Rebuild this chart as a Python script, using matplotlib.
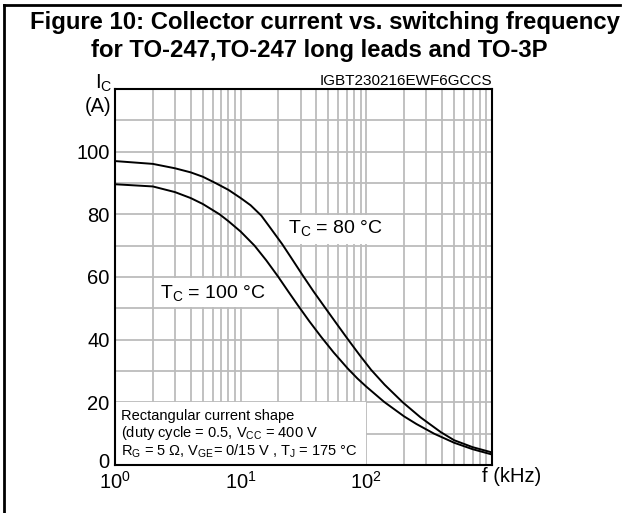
import matplotlib
matplotlib.use("Agg")
import matplotlib.pyplot as plt
import matplotlib.transforms as mtransforms
from matplotlib.lines import Line2D
from matplotlib.patches import Rectangle

plt.rcParams['font.family'] = ['Liberation Sans', 'DejaVu Sans']
plt.rcParams['mathtext.fontset'] = 'custom'
plt.rcParams['mathtext.rm'] = 'Liberation Sans'
plt.rcParams['mathtext.it'] = 'Liberation Sans:italic'

# switching frequency (kHz) and collector current (A)
f_80 = [1, 2, 3, 4, 5, 6.3, 8, 10, 12, 14.6, 17, 21.4, 25, 31.2, 38, 47.2, 58, 71.1, 88, 109,
        140, 195, 270, 391, 500, 700, 1000]
ic_80 = [97.0, 96.1, 94.7, 93.4, 92.0, 90.0, 87.8, 85.2, 82.9, 79.6, 76.0, 70.5, 66.4, 60.5,
         55.4, 50.1, 45.1, 40.2, 35.2, 30.4, 25.6, 20.0, 15.2, 10.5, 7.9, 5.7, 4.0]

f_100 = [1, 2, 3, 4, 5, 6.8, 8, 10, 12.9, 16, 19.8, 24, 28.5, 35, 43.7, 55, 71.1, 85, 100,
         139, 200, 250, 346, 500, 700, 1000]
ic_100 = [89.6, 88.9, 87.1, 85.2, 83.3, 80.0, 77.8, 74.5, 70.0, 65.3, 60.2, 55.3, 51.0, 46.0,
          40.9, 35.9, 30.8, 27.6, 25.0, 20.1, 15.5, 13.1, 10.0, 7.1, 5.05, 3.35]

xticks = [1, 10, 100]
xticklabels = [r'$\mathregular{10^{0}}$', r'$\mathregular{10^{1}}$', r'$\mathregular{10^{2}}$']
yticks = [0, 20, 40, 60, 80, 100]

fig = plt.figure(figsize=(6.28, 5.13), dpi=100)
ax = fig.add_axes([0.1831, 0.0936, 0.6003, 0.7329])

ax.set_xscale('log')
ax.set_xlim(1, 1000)
ax.set_ylim(0, 120)

# grid
grid_c = '#bcbcbc'
for dec in [1, 10, 100]:
    for m in range(1, 10):
        v = dec * m
        if 1 < v < 1000:
            ax.axvline(v, color=grid_c, lw=1.3, zorder=0)
for yv in range(10, 120, 10):
    ax.axhline(yv, color=grid_c, lw=1.3, zorder=0)

# white boxes behind labels
ax.add_patch(Rectangle((1, 0), 99, 20, facecolor='white', edgecolor='none', zorder=1))
ax.add_patch(Rectangle((20.5, 70.4), 170, 9.3, facecolor='white', edgecolor='none', zorder=1))
ax.add_patch(Rectangle((2.03, 50.4), 18.1, 9.3, facecolor='white', edgecolor='none', zorder=1))

ax.plot(f_80, ic_80, color='black', lw=1.4, zorder=3)
ax.plot(f_100, ic_100, color='black', lw=1.4, zorder=3)

ax.text(23.8, 75.5, r'T$_\mathregular{C}$ = 80 °C', fontsize=14, va='center', ha='left', zorder=4)
ax.text(2.3, 55, r'T$_\mathregular{C}$ = 100 °C', fontsize=14, va='center', ha='left', zorder=4)

ax.text(1.12, 15.6, 'Rectangular current shape', fontsize=10.5, va='center', zorder=4)
ax.text(1.12, 10.1, r'(duty cycle = 0.5, V$_\mathregular{CC}$ = 400 V', fontsize=10.5, va='center', zorder=4)
ax.text(1.12, 4.5, r'R$_\mathregular{G}$ = 5 Ω, V$_\mathregular{GE}$= 0/15 V , T$_\mathregular{J}$ = 175 °C',
        fontsize=10.5, va='center', zorder=4)

ax.set_xticks(xticks)
ax.set_xticklabels(xticklabels, fontsize=14.5)
ax.set_yticks(yticks)
ax.set_yticklabels([str(v) for v in yticks], fontsize=14.5)
ax.minorticks_off()
ax.tick_params(length=0, pad=4)
# nudge the "0" label up a little, like the original
lbl0 = ax.get_yticklabels()[0]
lbl0.set_transform(lbl0.get_transform() + mtransforms.ScaledTranslation(0, 4 / 100, fig.dpi_scale_trans))
for s in ax.spines.values():
    s.set_linewidth(1.5)
    s.set_zorder(5)

ax.text(1.0, 1.003, 'IGBT230216EWF6GCCS', transform=ax.transAxes, ha='right', va='bottom', fontsize=11)
fig.text(104 / 628, 1 - 83 / 513, r'I$_\mathregular{C}$', fontsize=14.5, ha='center', va='center')
fig.text(98 / 628, 1 - 106 / 513, '(A)', fontsize=14.5, ha='center', va='center')
fig.text(482 / 628, 1 - 477 / 513, 'f (kHz)', fontsize=14.5, ha='left', va='center')

fig.text(0.517, 1 - 22 / 513, 'Figure 10: Collector current vs. switching frequency',
         fontsize=17.2, fontweight='bold', ha='center', va='center')
fig.text(0.508, 1 - 50 / 513, 'for TO-247,TO-247 long leads and TO-3P',
         fontsize=17.2, fontweight='bold', ha='center', va='center')

# outer frame (top and left)
fig.add_artist(Line2D([4 / 628, 620 / 628], [1 - 5 / 513, 1 - 5 / 513], color='black', lw=2,
                      transform=fig.transFigure))
fig.add_artist(Line2D([4 / 628, 4 / 628], [1 - 5 / 513, 0], color='black', lw=2,
                      transform=fig.transFigure))

fig.savefig('out.png', dpi=100)
